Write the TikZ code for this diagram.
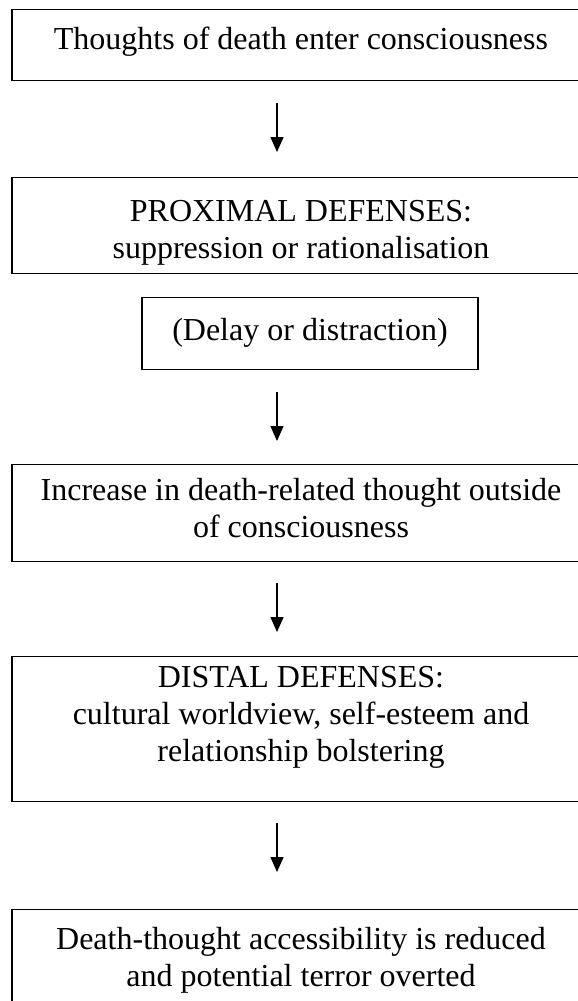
\documentclass[tikz,border=0pt]{standalone}
\usepackage{fontspec}
\setmainfont{Liberation Serif}
\usetikzlibrary{arrows.meta}

% centred lines whose baseline is that of the first line
\newcommand{\stagetext}[1]{\begin{tabular}[t]{@{}c@{}}#1\end{tabular}}

\tikzset{
  stage/.style={draw, line width=1.4pt, rectangle, anchor=north,
    font=\fontsize{32}{37}\selectfont, inner xsep=0pt, inner ysep=0pt},
  wide/.style={minimum width=578pt},
  flow/.style={line width=1.5pt, -{Triangle[width=13pt,length=15pt]}}
}

\begin{document}
\begin{tikzpicture}[x=1pt,y=-1pt]
  \clip (0,0) rectangle (578,1001);
  \useasboundingbox (0,0) rectangle (578,1001);

  % stages of the defence process (text height = top to first baseline)
  \node[stage, wide, text height=40pt, text depth=31pt] (b1) at (301,9)
    {\stagetext{Thoughts of death enter consciousness}};
  \node[stage, wide, text height=44pt, text depth=52pt] (b2) at (301,177)
    {\stagetext{PROXIMAL DEFENSES:\\suppression or rationalisation}};
  \node[stage, minimum width=336pt, text height=43pt, text depth=29pt] (b3) at (310,297)
    {\stagetext{(Delay or distraction)}};
  \node[stage, wide, text height=36pt, text depth=61pt] (b4) at (301,464)
    {\stagetext{Increase in death-related thought outside\\of consciousness}};
  \node[stage, wide, text height=31pt, text depth=114pt] (b5) at (301,656)
    {\stagetext{DISTAL DEFENSES:\\cultural worldview, self-esteem and\\relationship bolstering}};
  \node[stage, wide, text height=40pt, text depth=81pt] (b6) at (301,909)
    {\stagetext{Death-thought accessibility is reduced\\and potential terror overted}};

  % free-standing arrows between the stages
  \coordinate (a1s) at (277,103);  \coordinate (a1e) at (277,152);
  \coordinate (a2s) at (277,392);  \coordinate (a2e) at (277,441);
  \coordinate (a3s) at (277,583);  \coordinate (a3e) at (277,632);
  \coordinate (a4s) at (277,823);  \coordinate (a4e) at (277,872);
  \draw[flow] (a1s) -- (a1e);
  \draw[flow] (a2s) -- (a2e);
  \draw[flow] (a3s) -- (a3e);
  \draw[flow] (a4s) -- (a4e);
\end{tikzpicture}
\end{document}
